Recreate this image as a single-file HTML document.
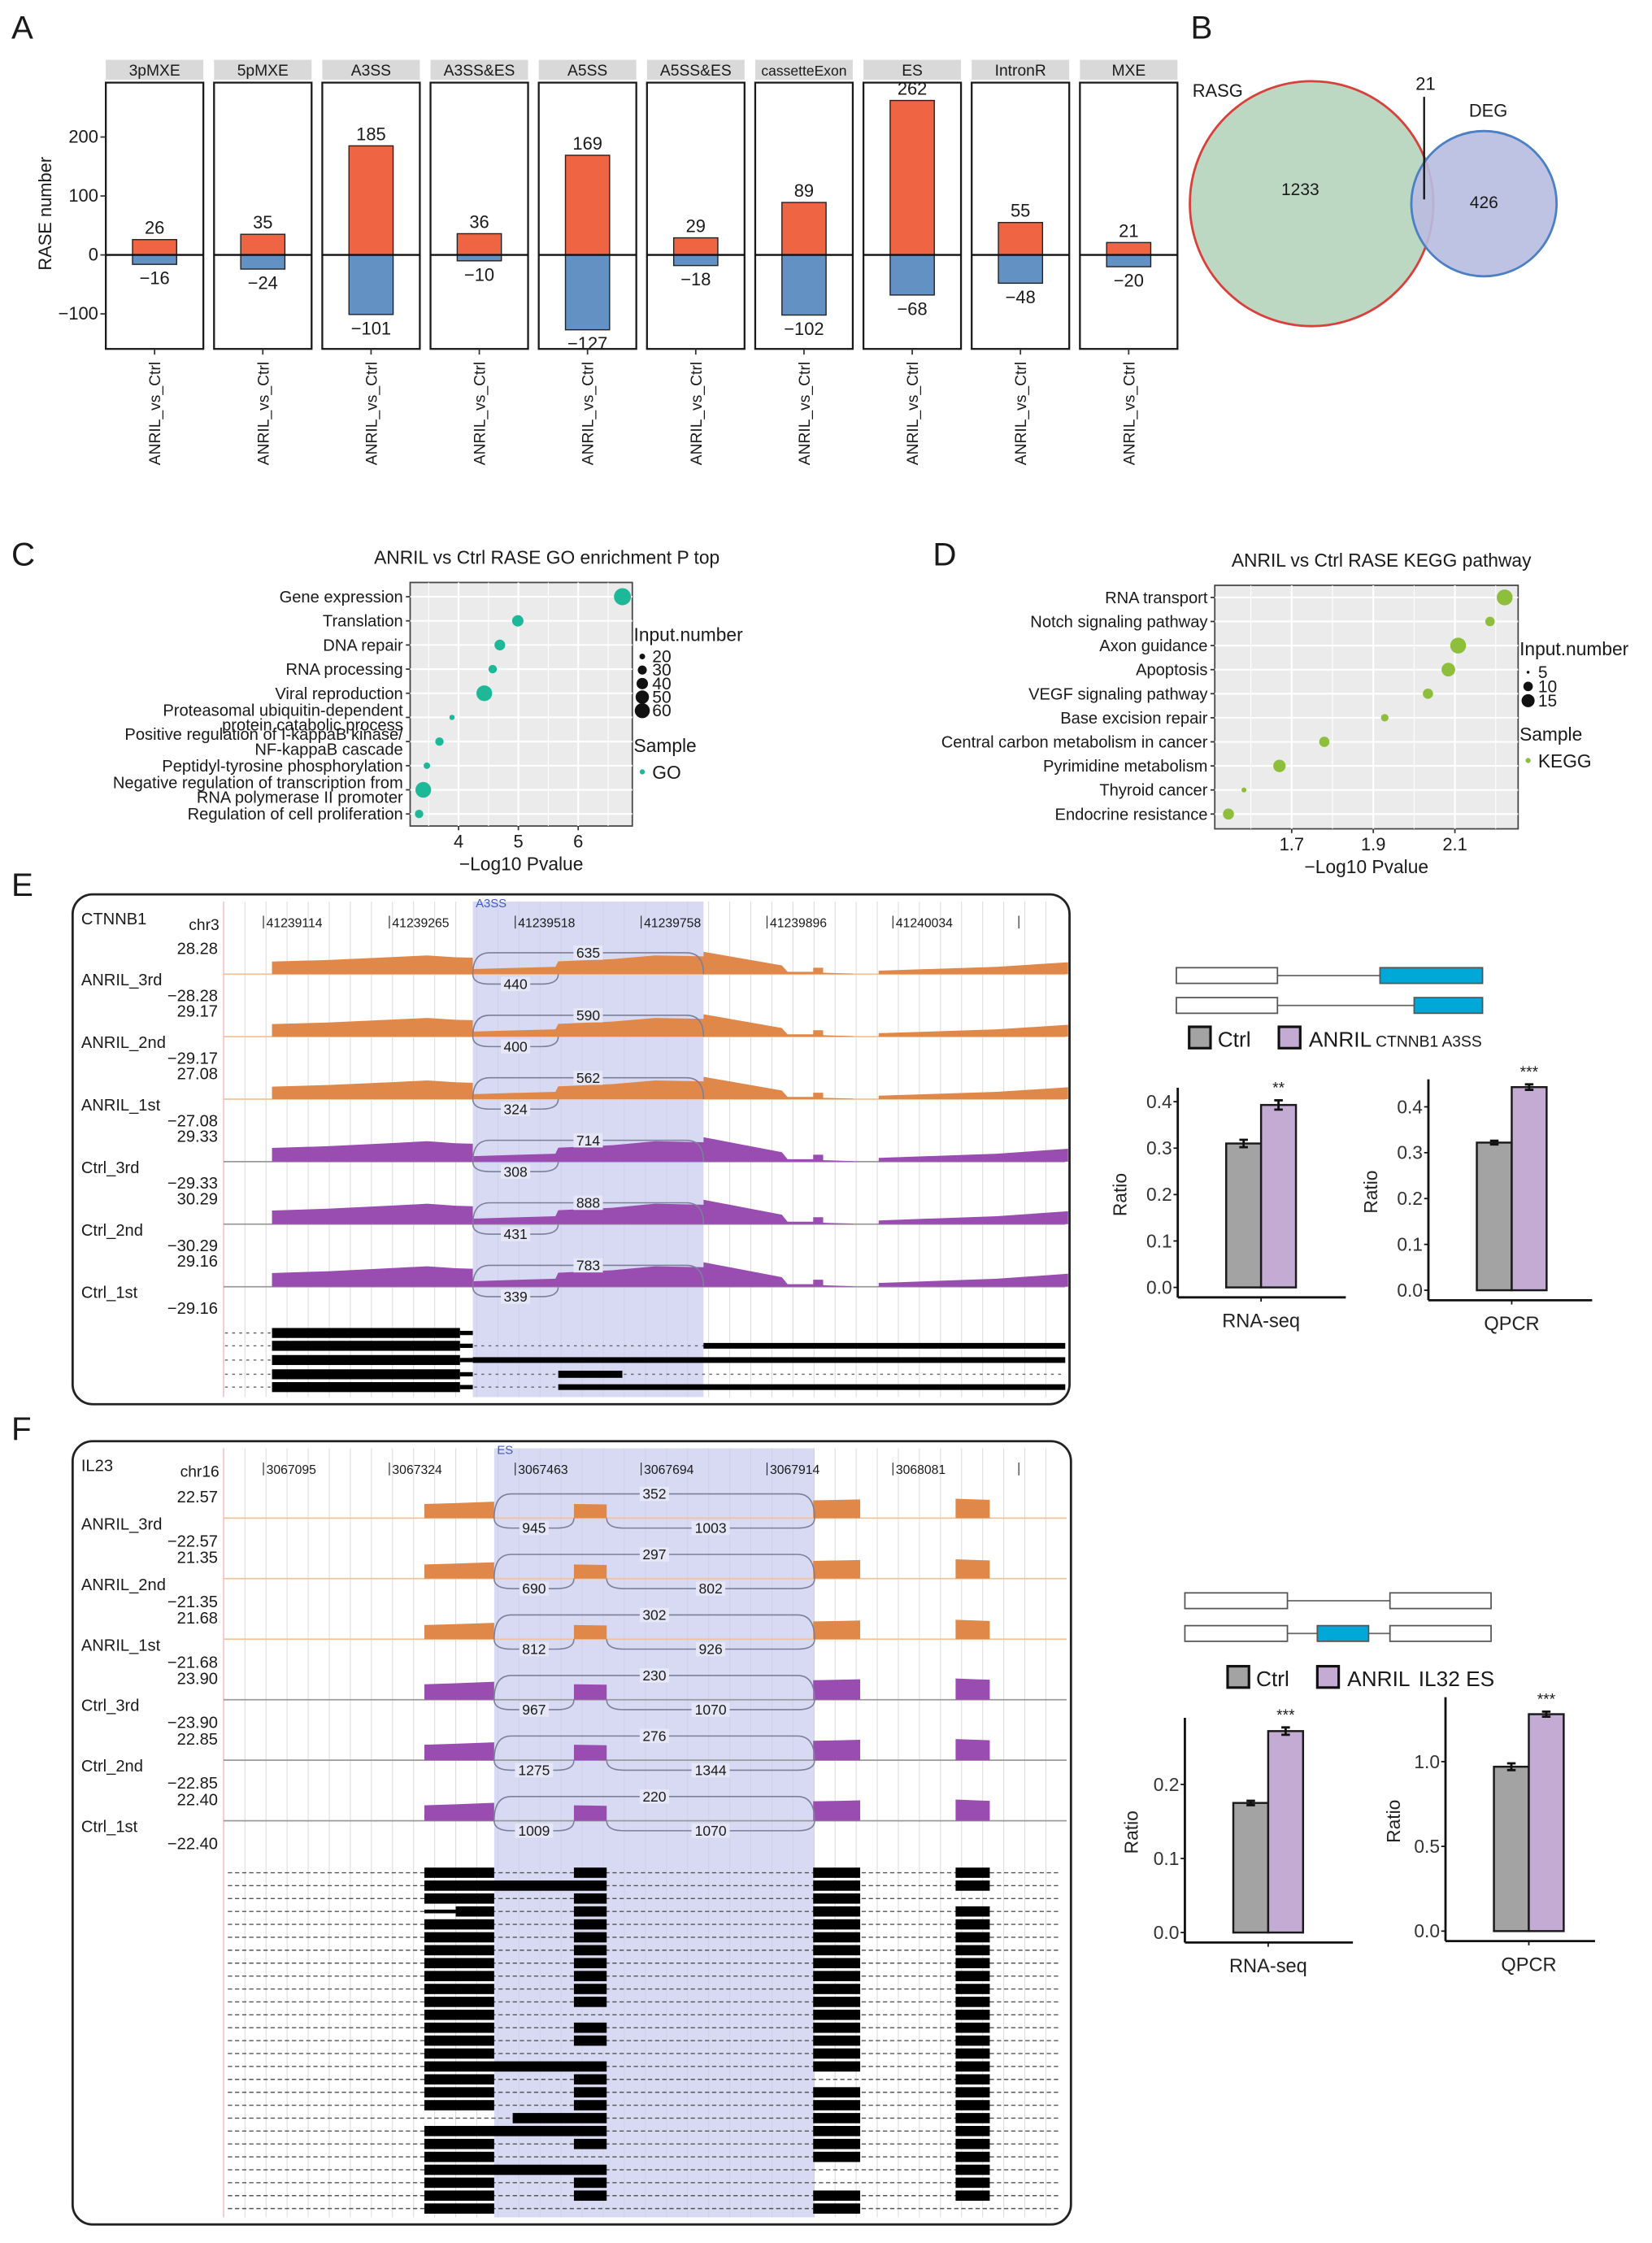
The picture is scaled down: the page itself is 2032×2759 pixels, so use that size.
<!DOCTYPE html>
<html><head><meta charset="utf-8"><title>ANRIL RASE figure</title>
<style>
html,body{margin:0;padding:0;background:#fff;}
svg{display:block;font-family:"Liberation Sans",Arial,sans-serif;}
</style></head>
<body>
<svg id="fig" xmlns="http://www.w3.org/2000/svg" width="2032" height="2759" viewBox="0 0 1160 1575">
<rect x="0" y="0" width="1160" height="1575" fill="#fff"/>
</svg>
<script>
// ===== Panel A data =====
const aCats = ['3pMXE','5pMXE','A3SS','A3SS&ES','A5SS','A5SS&ES','cassetteExon','ES','IntronR','MXE'];
const aUp = [26,35,185,36,169,29,89,262,55,21];
const aDown = [-16,-24,-101,-10,-127,-18,-102,-68,-48,-20];
const aTicks = [200,100,0,-100];
// ===== Panel B data =====
const vennOnly = [1233, 426];
const vennShared = [21];
// ===== Panel C data =====
const goTerms = ['Gene expression','Translation','DNA repair','RNA processing','Viral reproduction','Proteasomal ubiquitin-dependent|protein catabolic process','Positive regulation of I-kappaB kinase/|NF-kappaB cascade','Peptidyl-tyrosine phosphorylation','Negative regulation of transcription from|RNA polymerase II promoter','Regulation of cell proliferation'];
const goP = [6.74,4.99,4.69,4.57,4.43,3.89,3.68,3.47,3.41,3.34];
const goN = [73,40,37,28,64,19,28,22,64,28];
const goTicks = [4,5,6];
const goLegend = [20,30,40,50,60];
// ===== Panel D data =====
const keggTerms = ['RNA transport','Notch signaling pathway','Axon guidance','Apoptosis','VEGF signaling pathway','Base excision repair','Central carbon metabolism in cancer','Pyrimidine metabolism','Thyroid cancer','Endocrine resistance'];
const keggP = [2.222,2.186,2.108,2.084,2.034,1.928,1.78,1.67,1.583,1.545];
const keggN = [20,10,20,16,11,8,11,14,6,12];
const keggTicks = [1.7,1.9,2.1];
const keggLegend = [5,10,15];
// ===== Panel E data =====
const eSamples = ['ANRIL_3rd','ANRIL_2nd','ANRIL_1st','Ctrl_3rd','Ctrl_2nd','Ctrl_1st'];
const eMax = ['28.28','29.17','27.08','29.33','30.29','29.16'];
const eTopJ = [635,590,562,714,888,783];
const eBotJ = [440,400,324,308,431,339];
const eTicks = ['41239114','41239265','41239518','41239758','41239896','41240034',''];
const eBars = [0.31,0.393];
const eBarErr = [0.008,0.01];
const eQ = [0.322,0.443];
const eQErr = [0.004,0.006];
// ===== Panel F data =====
const fSamples = ['ANRIL_3rd','ANRIL_2nd','ANRIL_1st','Ctrl_3rd','Ctrl_2nd','Ctrl_1st'];
const fMax = ['22.57','21.35','21.68','23.90','22.85','22.40'];
const fTopJ = [352,297,302,230,276,220];
const fBot1 = [945,690,812,967,1275,1009];
const fBot2 = [1003,802,926,1070,1344,1070];
const fTicks = ['3067095','3067324','3067463','3067694','3067914','3068081',''];
const fBars = [0.175,0.272];
const fBarErr = [0.003,0.005];
const fQ = [0.97,1.28];
const fQErr = [0.02,0.015];

const NS='http://www.w3.org/2000/svg';
const svg=document.getElementById('fig');
function mk(tag,attrs,parent){const e=document.createElementNS(NS,tag);for(const k in attrs)e.setAttribute(k,attrs[k]);(parent||svg).appendChild(e);return e;}
function tx(x,y,s,size,anchor,extra,parent){const e=mk('text',Object.assign({x:x,y:y,'font-size':size,'text-anchor':anchor||'start',fill:'#1a1a1a'},extra||{}),parent);e.textContent=s;return e;}

// panel letters
[['A',8,27],['B',836,27],['C',8,397],['D',655,397],['E',8,629],['F',8,1011]].forEach(function(p){
  const e=tx(p[1],p[2],p[0],23,'start');
  
  
});

// ===== Panel A =====
const yA=v=>179-v*0.414;
const aLeft=i=>74.3+i*76.0;
const aW=68.5;
aCats.forEach(function(c,i){
  const L=aLeft(i), cx=L+aW/2;
  const strip=mk('rect',{x:L,y:42,width:aW,height:14,fill:'#d9d9d9'});
  
  
  const st=tx(cx,53,c,c.length>9?10:11,'middle');
  
  
  const box=mk('rect',{x:L,y:58,width:aW,height:187,fill:'#fff',stroke:'#1a1a1a','stroke-width':1.3});
  
  
  const bw=31;
  const up=mk('rect',{x:cx-bw/2,y:yA(aUp[i]),width:bw,height:yA(0)-yA(aUp[i]),fill:'#ef6543',stroke:'#222','stroke-width':0.8});
  
  
  const dn=mk('rect',{x:cx-bw/2,y:yA(0),width:bw,height:yA(aDown[i])-yA(0),fill:'#6391c3',stroke:'#222','stroke-width':0.8});
  
  
  const z=mk('line',{x1:L,x2:L+aW,y1:yA(0),y2:yA(0),stroke:'#111','stroke-width':1.4});
  
  
  const ul=tx(cx,yA(aUp[i])-4,String(aUp[i]),12.5,'middle');
  
  
  const dl=tx(cx,yA(aDown[i])+14,'\u2212'+Math.abs(aDown[i]),12.5,'middle');
  
  
  const tk=mk('line',{x1:cx,x2:cx,y1:245,y2:249,stroke:'#333','stroke-width':1});
  
  
  const xl=tx(0,0,'ANRIL_vs_Ctrl',11,'end',{transform:'translate('+(cx+4)+',254) rotate(-90)'});
  
  
});
aTicks.forEach(function(v){
  const t=tx(69,yA(v)+4,v<0?'\u2212'+Math.abs(v):String(v),12.5,'end');
  
  
  const l=mk('line',{x1:70.5,x2:74,y1:yA(v),y2:yA(v),stroke:'#333','stroke-width':1});
  
  
});
const ayt=tx(0,0,'RASE number',12.5,'middle',{transform:'translate(36,150) rotate(-90)'});



// ===== Panel B =====
const g1=mk('ellipse',{cx:921,cy:143,rx:85.5,ry:86,fill:'#bcd8c2',stroke:'#d9403c','stroke-width':1.6});


const g2=mk('ellipse',{cx:1042,cy:143,rx:51,ry:51,fill:'#b8bde0','fill-opacity':0.9,stroke:'#4b80c4','stroke-width':1.6});


const vl=mk('line',{x1:1000,x2:1000,y1:68,y2:140,stroke:'#111','stroke-width':1.3});


[[855,68,'RASG','venn-label-rasg',12.5,'middle'],[1001,63,String(vennShared[0]),'venn-count-shared',12.5,'middle'],[1045,82,'DEG','venn-label-deg',12.5,'middle'],[913,137,String(vennOnly[0]),'venn-count-rasg',12,'middle'],[1042,146,String(vennOnly[1]),'venn-count-deg',12,'middle']].forEach(function(d){
  const e=tx(d[0],d[1],d[2],d[4],d[5]);
  
  
});

// ===== dot plot helper =====
function dotPanel(key,terms,pv,nv,ticks,xs,box,rowY,color,rfun,title,titleX,legendX,legendVals,legendYs,sampleLabel){
  const bg=mk('rect',{x:box[0],y:box[1],width:box[2]-box[0],height:box[3]-box[1],fill:'#ebebeb',stroke:'#444','stroke-width':1});
  
  
  const step=(ticks[1]-ticks[0])/2;
  for(let v=ticks[0]-step*3; v<=ticks[ticks.length-1]+step*3; v+=step){
    const x=xs(v); if(x<=box[0]+1||x>=box[2]-1) continue;
    const major=Math.abs(((v-ticks[0])/(step*2))-Math.round((v-ticks[0])/(step*2)))<1e-6;
    const gl=mk('line',{x1:x,x2:x,y1:box[1],y2:box[3],stroke:'#fff','stroke-width':major?1.2:0.6});
    
    
  }
  terms.forEach(function(t,i){
    const y=rowY(i);
    const gl=mk('line',{x1:box[0],x2:box[2],y1:y,y2:y,stroke:'#fff','stroke-width':1.2});
    
    
    const parts=t.split('|');
    parts.forEach(function(p,j){
      const e=tx(box[0]-5,y+4+(j-(parts.length-1)/2)*10.5,p,11.5,'end');
      
      
    });
    const tk=mk('line',{x1:box[0]-3,x2:box[0],y1:y,y2:y,stroke:'#333','stroke-width':1});
    
    
  });
  terms.forEach(function(t,i){
    const c=mk('circle',{cx:xs(pv[i]),cy:rowY(i),r:rfun(nv[i]),fill:color});
    
    
  });
  ticks.forEach(function(v){
    const l=mk('line',{x1:xs(v),x2:xs(v),y1:box[3],y2:box[3]+3,stroke:'#333','stroke-width':1});
    
    
    const e=tx(xs(v),box[3]+15,String(v),12.5,'middle');
    
    
  });
  const xt=tx((box[0]+box[2])/2,box[3]+31,'\u2212Log10 Pvalue',13,'middle');
  
  
  const tt=tx(titleX,box[1]-13,title,13,'middle');
  
  
  const lt=tx(legendX,legendYs[0],'Input.number',13,'start');
  
  
  legendVals.forEach(function(v,i){
    const y=legendYs[1]+i*legendYs[2];
    const c=mk('circle',{cx:legendX+6,cy:y,r:rfun(v),fill:'#111'});
    
    
    const e=tx(legendX+13,y+4,String(v),12,'start');
    
    
  });
  const st=tx(legendX,legendYs[3],'Sample',13,'start');
  
  
  const sc=mk('circle',{cx:legendX+6,cy:legendYs[3]+14,r:1.8,fill:color});
  
  
  const sl=tx(legendX+13,legendYs[3]+19,sampleLabel,13,'start');
  
  
}
dotPanel('go',goTerms,goP,goN,goTicks,v=>322+(v-4)*42,[288,409,444,580],i=>419+i*16.95,'#1db898',
  n=>Math.sqrt(Math.max(0.8,0.6*n-8)),'ANRIL vs Ctrl RASE GO enrichment P top',384,445,goLegend,[450,461,9.5,528],'GO');
dotPanel('kegg',keggTerms,keggP,keggN,keggTicks,v=>907+(v-1.7)*286.5,[853,411,1066,582],i=>419.5+i*16.9,'#8dbf3c',
  n=>Math.sqrt(Math.max(0.7,2*n-9)),'ANRIL vs Ctrl RASE KEGG pathway',970,1067,keggLegend,[460,472,10,520],'KEGG');

// ===== Genome browser helper =====
function browser(key,box,shade,shadeLabel,gene,chr,ticks,tickY,samples,maxL,baseY,step,cov,arcs,arcVals,isE){
  const fr=mk('rect',{x:box[0],y:box[1],width:box[2]-box[0],height:box[3]-box[1],rx:14,fill:'#fff',stroke:'#222','stroke-width':1.6});
  
  
  const x0=157, x1=box[2]-3;
  for(let x=x0+15;x<x1;x+=14.8){
    const gl=mk('line',{x1:x,x2:x,y1:box[1]+5,y2:box[3]-5,stroke:'#dcdcdc','stroke-width':0.6});
    
    
  }
  const pl=mk('line',{x1:x0,x2:x0,y1:box[1]+5,y2:box[3]-5,stroke:'#f3b6c2','stroke-width':0.8});
  
  
  const sh=mk('rect',{x:shade[0],y:box[1]+5,width:shade[1]-shade[0],height:box[3]-box[1]-10,fill:'#c9cdee','fill-opacity':0.75});
  
  
  const sl=tx(shade[0]+2,box[1]+9,shadeLabel,8.5,'start',{fill:'#3b5bc4'});
  
  
  const gn=tx(57,tickY-2,gene,11.5,'start');
  
  
  const cn=tx(154,tickY+2,chr,11,'end');
  
  
  ticks.forEach(function(t,i){
    const x=185+i*88.4;
    const l=mk('line',{x1:x,x2:x,y1:tickY-8,y2:tickY+1,stroke:'#333','stroke-width':0.7});
    
    
    if(t){const e=tx(x+2,tickY,t,9,'start');
      
      }
  });
  samples.forEach(function(s,i){
    const b=baseY+i*step;
    const anr=s.indexOf('ANRIL')===0;
    const col=anr?'#e0884a':'#9a4db0';
    const bl=mk('line',{x1:x0,x2:x1,y1:b,y2:b,stroke:anr?'#f2c39a':'#9a9a9a','stroke-width':1});
    
    
    let d='';
    cov.forEach(function(seg){
      d+='M'+seg[0][0]+','+b;
      seg.forEach(function(p){d+=' L'+p[0]+','+(b-p[1]*(anr?16:17.5));});
      d+=' L'+seg[seg.length-1][0]+','+b+' Z ';
    });
    const ar=mk('path',{d:d,fill:col});
    
    
    const hi=tx(153,b-(isE?14:11),maxL[i],11.5,'end');
    
    
    const lo=tx(153,b+(isE?19:20),'\u2212'+maxL[i],11.5,'end');
    
    
    const nm=tx(57,b+(isE?8:8),s,11.5,'start');
    
    
    arcs.forEach(function(a,k){
      const h=a[2];const yy=b+h;const r=Math.min(12,(a[1]-a[0])/3);
      const p=mk('path',{d:'M'+a[0]+','+b+' Q'+a[0]+','+yy+' '+(a[0]+r)+','+yy+' L'+(a[1]-r)+','+yy+' Q'+a[1]+','+yy+' '+a[1]+','+b,fill:'none',stroke:'#7c7f9a','stroke-width':0.9});
      
      
      const lab=String(arcVals[k][i]);
      const cx=(a[0]+a[1])/2;
      const bg=mk('rect',{x:cx-lab.length*3.1-1,y:yy-5,width:lab.length*6.2+2,height:10,fill:'#e6e7f6'});
      
      
      const lt=tx(cx,yy+3.5,lab,10,'middle');
      
      
    });
  });
}

// ===== Panel E =====
const eCov=[[[191,.55],[230,.62],[280,.76],[300,.82],[320,.74],[332,.72],[332,.22],[360,.27],[390,.32],[392,.56],[430,.66],[460,.82],[494,.78],[494,.98],[549,.38],[553,.1],[571,.1],[571,.28],[578,.28],[578,.06],[599,.02]],[[617,.15],[700,.32],[750,.52]]];
browser('e',[51,628,751,986],[332,494],'A3SS','CTNNB1','chr3',eTicks,651,eSamples,eMax,684,43.9,eCov,[[332,494,-15],[332,392,7]],[eTopJ,eBotJ],true);
// transcripts E
const eTrY=[936,945,955,965,974];
const eTrType=[0,1,2,3,4];
eTrType.forEach(function(tp,i){
  const y=eTrY[i];
  const ln=mk('line',{x1:158,x2:tp===0?332:748,y1:y,y2:y,stroke:'#666','stroke-width':0.8,'stroke-dasharray':'2,3'});
  
  
  const ex=mk('rect',{x:191,y:y-3.5,width:132,height:7,fill:'#000'});
  
  
  const ex2=mk('rect',{x:323,y:y-1.5,width:9,height:3,fill:'#000'});
  
  
  let seg=null;
  if(tp===1) seg=[494,748];
  if(tp===2) seg=[332,748];
  if(tp===3) seg=[392,437];
  if(tp===4) seg=[392,748];
  if(seg){const r=mk('rect',{x:seg[0],y:y-(tp===3?2.5:2),width:seg[1]-seg[0],height:tp===3?5:4,fill:'#000'});
    
    }
});

// ===== Panel F =====
const fCov=[[[298,.62],[320,.66],[347,.72]],[[403,.62],[426,.6]],[[571,.78],[590,.8],[604,.82]],[[671,.85],[685,.82],[695,.8]]];
browser('f',[51,1012,752,1562],[347,572],'ES','IL23','chr16',fTicks,1035,fSamples,fMax,1066,42.5,fCov,[[347,572,-17],[347,403,7],[426,572,7]],[fTopJ,fBot1,fBot2],false);
const fRows=[[1,1,1,1],[2,0,1,1],[1,1,1,0],[3,1,1,1],[1,1,1,1],[1,1,1,1],[1,1,1,1],[1,1,1,1],[1,1,1,1],[1,1,1,1],[1,1,1,1],[1,0,1,1],[1,1,1,1],[1,1,1,1],[1,0,1,1],[2,0,1,1],[1,1,0,1],[1,1,1,1],[1,1,1,1],[4,0,1,1],[2,0,1,1],[1,1,1,1],[1,0,1,1],[2,0,0,1],[1,1,0,1],[1,1,1,1],[1,0,1,0]];
const fEx=[[298,347],[403,426],[571,604],[671,695]];
fRows.forEach(function(r,i){
  const y=1315+i*9.07;
  const ln=mk('line',{x1:160,x2:745,y1:y,y2:y,stroke:'#555','stroke-width':0.8,'stroke-dasharray':'3,2'});
  
  
  const segs=[];
  if(r[0]===1) segs.push(fEx[0]);
  if(r[0]===2) segs.push([fEx[0][0],fEx[1][1]]);
  if(r[0]===3) segs.push([320,347]);
  if(r[0]===4) segs.push([360,426]);
  if(r[1]) segs.push(fEx[1]);
  if(r[2]) segs.push(fEx[2]);
  if(r[3]) segs.push(fEx[3]);
  segs.forEach(function(s){
    const e=mk('rect',{x:s[0],y:y-3.6,width:s[1]-s[0],height:7.2,fill:'#000'});
    
    
  });
  if(r[0]===3){const u=mk('rect',{x:298,y:y-1.3,width:22,height:2.6,fill:'#000'});
    
    }
});

// ===== bar chart helper =====
function barChart(key,ax,zy,ppu,ticks,tickFmt,vals,errs,stars,label,xEnd,topV,ratioX){
  const ys=v=>zy-v*ppu;
  const bx=[ax+34,ax+58.5];
  const cols=['#a3a3a3','#c4abd3'];
  vals.forEach(function(v,i){
    const r=mk('rect',{x:bx[i],y:ys(v),width:24.5,height:zy-ys(v),fill:cols[i],stroke:'#1a1a1a','stroke-width':1.4});
    
    
    const cx=bx[i]+12.25;
    const e=mk('path',{d:'M'+cx+','+ys(v+errs[i])+' V'+ys(v-errs[i])+' M'+(cx-3)+','+ys(v+errs[i])+' H'+(cx+3)+' M'+(cx-3)+','+ys(v-errs[i])+' H'+(cx+3),stroke:'#111','stroke-width':1.6,fill:'none'});
    
    
  });
  const st=tx(bx[1]+12.25,ys(vals[1]+errs[1])-5,stars,11,'middle');
  
  
  const yl=mk('line',{x1:ax,x2:ax,y1:ys(topV),y2:zy+7,stroke:'#111','stroke-width':1.6});
  
  
  const xl=mk('line',{x1:ax,x2:xEnd,y1:zy+7,y2:zy+7,stroke:'#111','stroke-width':1.6});
  
  
  ticks.forEach(function(v){
    const t=mk('line',{x1:ax-3,x2:ax,y1:ys(v),y2:ys(v),stroke:'#111','stroke-width':1});
    
    
    const l=tx(ax-4,ys(v)+4.5,v.toFixed(tickFmt),13,'end',{fill:'#333'});
    
    
  });
  const xt=mk('line',{x1:bx[1],x2:bx[1],y1:zy+7,y2:zy+10,stroke:'#111','stroke-width':1});
  
  
  const lb=tx(bx[1],zy+28,label,13.5,'middle',{fill:'#222'});
  
  
  const rt=tx(0,0,'Ratio',13,'middle',{transform:'translate('+ratioX+','+(zy-ppu*topV/2+5)+') rotate(-90)',fill:'#222'});
  
  
}
barChart('e-rnaseq',827,904,326,[0,0.1,0.2,0.3,0.4],1,eBars,eBarErr,'**','RNA-seq',945,0.43,791);
barChart('e-qpcr',1003,906,322,[0,0.1,0.2,0.3,0.4],1,eQ,eQErr,'***','QPCR',1118,0.46,967);
barChart('f-rnaseq',832,1357,520,[0,0.1,0.2],1,fBars,fBarErr,'***','RNA-seq',950,0.29,799);
barChart('f-qpcr',1015,1356,119,[0,0.5,1.0],1,fQ,fQErr,'***','QPCR',1120,1.38,983);

// gene structures and legends
function geneBox(x,y,w,fill,nm){const r=mk('rect',{x:x,y:y-5.5,width:w,height:11,fill:fill,stroke:'#555','stroke-width':1});
  
  }
function intron(x1,x2,y){const l=mk('line',{x1:x1,x2:x2,y1:y,y2:y,stroke:'#666','stroke-width':1});
  
  }
intron(897,969,685);geneBox(826,685,71,'#fff','schematic-exon');geneBox(969,685,72,'#00a8d8','schematic-alt-exon');
intron(897,993,706);geneBox(826,706,71,'#fff','schematic-exon');geneBox(993,706,48,'#00a8d8','schematic-alt-exon');
intron(904,976,1124);geneBox(832,1124,72,'#fff','schematic-exon');geneBox(976,1124,71,'#fff','schematic-exon');
intron(904,976,1147);geneBox(832,1147,72,'#fff','schematic-exon');geneBox(925,1147,36,'#00a8d8','schematic-skipped-exon');geneBox(976,1147,71,'#fff','schematic-exon');
function legend(y,x1,x2,xt,title){
  const a=mk('rect',{x:x1,y:y-9,width:15,height:15,fill:'#a3a3a3',stroke:'#111','stroke-width':1.8});
  
  
  const at=tx(x1+20,y+5,'Ctrl',15,'start');
  
  
  const b=mk('rect',{x:x2,y:y-9,width:15,height:15,fill:'#c4abd3',stroke:'#111','stroke-width':1.8});
  
  
  const bt=tx(x2+21,y+5,'ANRIL',15,'start');
  
  
  const tt=tx(xt,y+5,title[0],title[1],'start');
  
  
}
legend(730,835,898,966,['CTNNB1  A3SS',11]);
legend(1179,862,925,996,['IL32 ES',15]);
</script>
</body></html>
